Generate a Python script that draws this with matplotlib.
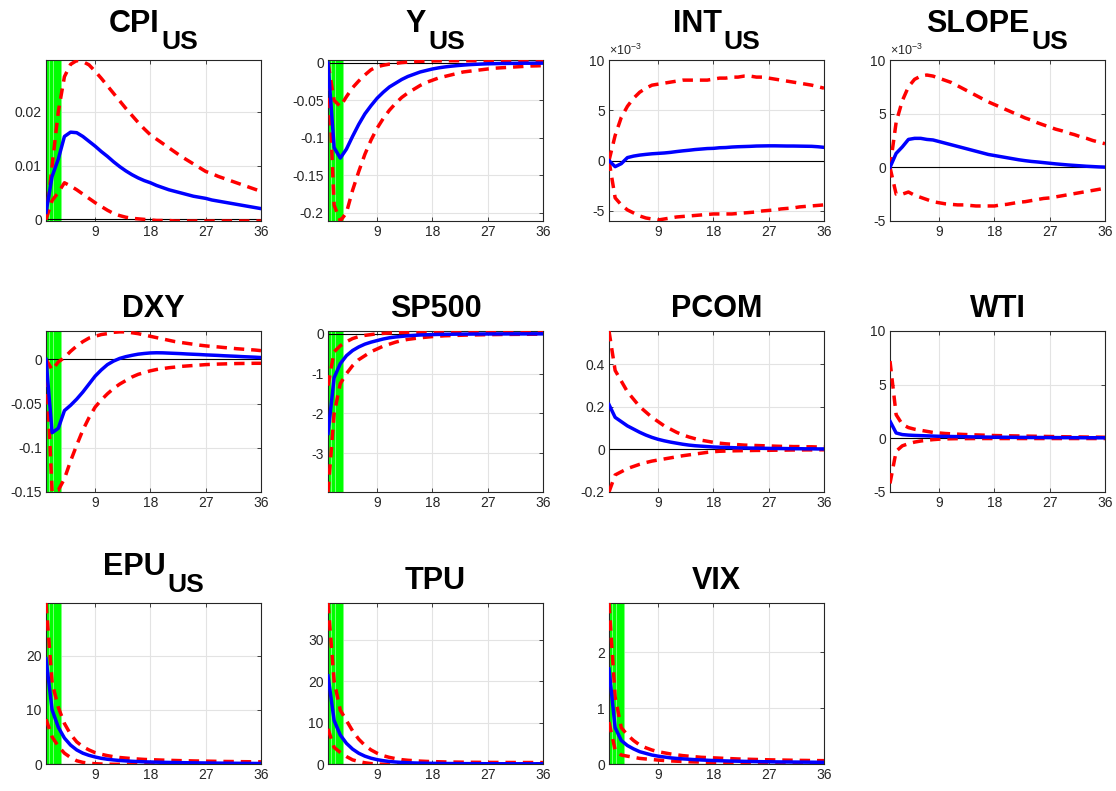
import numpy as np
import matplotlib
matplotlib.use("Agg")
import matplotlib.pyplot as plt
from matplotlib.ticker import FormatStrFormatter

plt.rcParams['font.family'] = ['Liberation Sans', 'DejaVu Sans']
plt.rcParams['mathtext.fontset'] = 'custom'
plt.rcParams['mathtext.rm'] = 'Liberation Sans'

horizon = np.arange(1, 37)

# impulse responses: median (blue) and bands (red), 36 months
cpi_mid = [0.0013, 0.008, 0.0112, 0.0154, 0.0162, 0.0161, 0.0154, 0.0145, 0.0136, 0.0126,
           0.0117, 0.0107, 0.0098, 0.009, 0.0083, 0.0077, 0.0072, 0.0068, 0.0063, 0.0059,
           0.0055, 0.0052, 0.0049, 0.0046, 0.0043, 0.0041, 0.0039, 0.0036, 0.0034, 0.0032,
           0.003, 0.0028, 0.0026, 0.0024, 0.0022, 0.002]
cpi_hi = [0.0, 0.010, 0.020, 0.0265, 0.0288, 0.0295, 0.0293, 0.0287, 0.0275, 0.0262,
          0.0248, 0.0234, 0.022, 0.0206, 0.0193, 0.018, 0.0168, 0.0157, 0.0149, 0.0141,
          0.0133, 0.0125, 0.0117, 0.011, 0.0103, 0.0096, 0.0089, 0.0085, 0.008, 0.0076,
          0.0072, 0.0068, 0.0064, 0.006, 0.0056, 0.0052]
cpi_lo = [0.0, 0.0035, 0.005, 0.0068, 0.0062, 0.0055, 0.0047, 0.0039, 0.0031, 0.0024,
          0.0017, 0.0011, 0.0007, 0.0004, 0.0002, 0.0001, 0.0, -0.0001, -0.0002, -0.0002,
          -0.0002, -0.0003, -0.0003, -0.0003, -0.0003, -0.0003, -0.0003, -0.0003, -0.0003, -0.0003,
          -0.0003, -0.0003, -0.0003, -0.0003, -0.0003, -0.0003]

y_mid = [0.0, -0.113, -0.127, -0.115, -0.098, -0.082, -0.068, -0.057, -0.047, -0.039,
         -0.032, -0.027, -0.022, -0.018, -0.015, -0.012, -0.010, -0.008, -0.0065, -0.0053,
         -0.0043, -0.0035, -0.0028, -0.0022, -0.0018, -0.0014, -0.0011, -0.0009, -0.0007, -0.0006,
         -0.0005, -0.0004, -0.0003, -0.0003, -0.0002, -0.0002]
y_hi = [0.0, -0.05, -0.058, -0.045, -0.033, -0.024, -0.016, -0.009, -0.005, -0.003,
        -0.0015, -0.0005, 0.0005, 0.0012, 0.0018, 0.0022, 0.0025, 0.0027, 0.0028, 0.0029,
        0.003, 0.003, 0.003, 0.003, 0.0029, 0.0029, 0.0028, 0.0028, 0.0027, 0.0027,
        0.0026, 0.0026, 0.0025, 0.0025, 0.0024, 0.0024]
y_lo = [0.0, -0.19, -0.211, -0.20, -0.17, -0.145, -0.122, -0.103, -0.087, -0.074,
        -0.063, -0.054, -0.046, -0.040, -0.035, -0.030, -0.026, -0.023, -0.020, -0.018,
        -0.016, -0.014, -0.012, -0.011, -0.010, -0.009, -0.008, -0.007, -0.0065, -0.006,
        -0.0055, -0.005, -0.0045, -0.004, -0.0038, -0.0035]

# INT and SLOPE in units of 1e-3
int_mid = [0.0, -0.6, -0.3, 0.3, 0.45, 0.55, 0.62, 0.68, 0.72, 0.76,
           0.82, 0.9, 0.97, 1.03, 1.1, 1.15, 1.2, 1.22, 1.28, 1.3,
           1.35, 1.38, 1.4, 1.42, 1.45, 1.46, 1.47, 1.47, 1.46, 1.45,
           1.45, 1.44, 1.43, 1.42, 1.38, 1.32]
int_hi = [0.0, 2.5, 4.3, 5.4, 6.2, 6.8, 7.2, 7.5, 7.6, 7.7,
          7.8, 7.9, 8.0, 8.0, 8.0, 8.0, 8.0, 8.1, 8.2, 8.2,
          8.3, 8.3, 8.4, 8.4, 8.3, 8.3, 8.2, 8.1, 8.0, 7.9,
          7.8, 7.7, 7.6, 7.5, 7.35, 7.2]
int_lo = [0.0, -3.7, -4.4, -4.9, -5.2, -5.5, -5.7, -5.8, -5.9, -5.8,
          -5.7, -5.6, -5.55, -5.5, -5.45, -5.4, -5.35, -5.3, -5.3, -5.3,
          -5.3, -5.25, -5.2, -5.15, -5.1, -5.0, -4.95, -4.9, -4.8, -4.75,
          -4.7, -4.6, -4.55, -4.5, -4.45, -4.4]

slope_mid = [0.0, 1.3, 1.9, 2.6, 2.7, 2.7, 2.6, 2.55, 2.4, 2.25,
             2.1, 1.95, 1.8, 1.65, 1.5, 1.35, 1.2, 1.1, 1.0, 0.9,
             0.8, 0.7, 0.62, 0.55, 0.5, 0.44, 0.38, 0.32, 0.27, 0.22,
             0.18, 0.14, 0.1, 0.07, 0.04, 0.02]
slope_hi = [0.0, 4.2, 6.2, 7.5, 8.2, 8.5, 8.6, 8.5, 8.3, 8.1,
            7.9, 7.6, 7.3, 7.0, 6.7, 6.4, 6.1, 5.85, 5.6, 5.35,
            5.1, 4.85, 4.6, 4.4, 4.15, 3.95, 3.75, 3.55, 3.4, 3.2,
            3.05, 2.85, 2.7, 2.5, 2.35, 2.2]
slope_lo = [0.0, -2.5, -2.5, -2.3, -2.6, -2.8, -3.0, -3.2, -3.3, -3.4,
            -3.45, -3.5, -3.5, -3.55, -3.6, -3.6, -3.6, -3.6, -3.5, -3.45,
            -3.35, -3.25, -3.2, -3.1, -3.0, -2.9, -2.85, -2.75, -2.65, -2.55,
            -2.45, -2.35, -2.25, -2.15, -2.05, -1.95]

dxy_mid = [0.0, -0.083, -0.078, -0.058, -0.052, -0.045, -0.037, -0.028, -0.019, -0.012,
           -0.006, -0.002, 0.001, 0.003, 0.0045, 0.0058, 0.0066, 0.0072, 0.0074, 0.0073,
           0.007, 0.0067, 0.0064, 0.006, 0.0057, 0.0054, 0.005, 0.0047, 0.0044, 0.004,
           0.0037, 0.0034, 0.003, 0.0027, 0.0024, 0.002]
dxy_hi = [0.0, -0.012, -0.003, 0.002, 0.009, 0.015, 0.02, 0.024, 0.026, 0.028,
          0.029, 0.0305, 0.031, 0.031, 0.030, 0.029, 0.0275, 0.026, 0.0245, 0.023,
          0.0215, 0.020, 0.019, 0.018, 0.017, 0.016, 0.0152, 0.0145, 0.014, 0.0133,
          0.0127, 0.012, 0.0115, 0.011, 0.0105, 0.0098]
dxy_lo = [0.0, -0.15, -0.148, -0.135, -0.115, -0.097, -0.08, -0.066, -0.054, -0.046,
          -0.039, -0.033, -0.028, -0.024, -0.02, -0.017, -0.015, -0.013, -0.0115, -0.0105,
          -0.0095, -0.0088, -0.008, -0.0075, -0.007, -0.0065, -0.006, -0.0057, -0.0054, -0.0052,
          -0.005, -0.0048, -0.0047, -0.0046, -0.0045, -0.0045]

sp_mid = [-2.5, -1.1, -0.75, -0.55, -0.42, -0.33, -0.26, -0.21, -0.17, -0.13,
          -0.10, -0.08, -0.065, -0.05, -0.04, -0.03, -0.025, -0.02, -0.016, -0.013,
          -0.011, -0.009, -0.008, -0.007, -0.006, -0.005, -0.004, -0.004, -0.003, -0.003,
          -0.002, -0.002, -0.002, -0.001, -0.001, -0.001]
sp_hi = [-1.3, -0.45, -0.3, -0.2, -0.12, -0.07, -0.04, -0.02, 0.0, 0.01,
         0.02, 0.025, 0.03, 0.03, 0.035, 0.035, 0.035, 0.035, 0.035, 0.035,
         0.035, 0.035, 0.03, 0.03, 0.03, 0.03, 0.03, 0.03, 0.03, 0.025,
         0.025, 0.025, 0.025, 0.025, 0.025, 0.025]
sp_lo = [-3.97, -2.0, -1.25, -1.0, -0.8, -0.65, -0.55, -0.45, -0.38, -0.31,
         -0.26, -0.21, -0.17, -0.14, -0.12, -0.10, -0.085, -0.07, -0.06, -0.05,
         -0.045, -0.04, -0.035, -0.03, -0.028, -0.025, -0.022, -0.02, -0.018, -0.016,
         -0.015, -0.014, -0.013, -0.012, -0.011, -0.01]

pcom_mid = [0.21, 0.15, 0.13, 0.11, 0.095, 0.08, 0.067, 0.056, 0.047, 0.04,
            0.034, 0.029, 0.024, 0.02, 0.017, 0.015, 0.013, 0.011, 0.01, 0.009,
            0.008, 0.007, 0.0065, 0.006, 0.0055, 0.005, 0.0045, 0.004, 0.004, 0.0035,
            0.003, 0.003, 0.0025, 0.0025, 0.002, 0.002]
pcom_hi = [0.555, 0.37, 0.32, 0.27, 0.235, 0.20, 0.175, 0.15, 0.13, 0.11,
           0.095, 0.08, 0.068, 0.058, 0.05, 0.043, 0.038, 0.033, 0.029, 0.026,
           0.024, 0.022, 0.02, 0.019, 0.018, 0.017, 0.016, 0.015, 0.014, 0.014,
           0.013, 0.013, 0.012, 0.012, 0.011, 0.011]
pcom_lo = [-0.2, -0.12, -0.105, -0.09, -0.08, -0.07, -0.062, -0.055, -0.05, -0.045,
           -0.04, -0.035, -0.03, -0.026, -0.022, -0.018, -0.014, -0.011, -0.009, -0.008,
           -0.007, -0.0065, -0.006, -0.0055, -0.005, -0.005, -0.0045, -0.004, -0.004, -0.0035,
           -0.003, -0.003, -0.0025, -0.0025, -0.002, -0.002]

wti_mid = [1.6, 0.5, 0.35, 0.3, 0.27, 0.25, 0.23, 0.21, 0.19, 0.18,
           0.17, 0.16, 0.15, 0.14, 0.13, 0.12, 0.115, 0.11, 0.105, 0.1,
           0.095, 0.09, 0.085, 0.08, 0.078, 0.075, 0.072, 0.07, 0.067, 0.065,
           0.062, 0.06, 0.057, 0.055, 0.052, 0.05]
wti_hi = [7.2, 2.2, 1.3, 1.0, 0.85, 0.75, 0.65, 0.55, 0.5, 0.45,
          0.42, 0.39, 0.36, 0.34, 0.32, 0.3, 0.28, 0.26, 0.25, 0.24,
          0.23, 0.22, 0.21, 0.2, 0.19, 0.18, 0.17, 0.16, 0.15, 0.14,
          0.14, 0.13, 0.12, 0.11, 0.11, 0.1]
wti_lo = [-4.2, -1.2, -0.7, -0.5, -0.35, -0.25, -0.18, -0.12, -0.08, -0.05,
          -0.04, -0.03, -0.03, -0.025, -0.02, -0.02, -0.02, -0.02, -0.02, -0.02,
          -0.02, -0.02, -0.02, -0.02, -0.02, -0.02, -0.02, -0.02, -0.02, -0.02,
          -0.02, -0.02, -0.02, -0.02, -0.02, -0.02]

epu_mid = [19.5, 10.0, 6.8, 4.8, 3.5, 2.6, 2.0, 1.6, 1.3, 1.05,
           0.88, 0.75, 0.65, 0.57, 0.5, 0.45, 0.4, 0.37, 0.34, 0.31,
           0.29, 0.27, 0.25, 0.23, 0.21, 0.2, 0.19, 0.17, 0.16, 0.15,
           0.14, 0.13, 0.12, 0.11, 0.1, 0.1]
epu_hi = [29.8, 15.0, 10.5, 7.5, 5.5, 4.1, 3.2, 2.6, 2.1, 1.8,
          1.55, 1.35, 1.2, 1.1, 1.0, 0.92, 0.85, 0.8, 0.76, 0.72,
          0.68, 0.65, 0.62, 0.6, 0.57, 0.55, 0.53, 0.51, 0.49, 0.47,
          0.46, 0.45, 0.43, 0.42, 0.41, 0.4]
epu_lo = [8.3, 5.0, 3.3, 2.0, 1.2, 0.6, 0.3, 0.15, 0.05, 0.0,
          -0.03, -0.05, -0.05, -0.05, -0.05, -0.05, -0.05, -0.04, -0.04, -0.04,
          -0.03, -0.03, -0.03, -0.03, -0.02, -0.02, -0.02, -0.02, -0.02, -0.02,
          -0.01, -0.01, -0.01, -0.01, -0.01, -0.01]

tpu_mid = [21.3, 10.5, 7.0, 5.0, 3.6, 2.6, 1.9, 1.4, 1.05, 0.8,
           0.6, 0.48, 0.38, 0.3, 0.25, 0.21, 0.18, 0.16, 0.14, 0.12,
           0.11, 0.1, 0.09, 0.085, 0.08, 0.075, 0.07, 0.065, 0.06, 0.06,
           0.055, 0.055, 0.05, 0.05, 0.05, 0.05]
tpu_hi = [38.9, 20.0, 13.0, 10.5, 8.0, 6.0, 4.5, 3.4, 2.6, 2.0,
          1.6, 1.3, 1.05, 0.9, 0.8, 0.7, 0.63, 0.58, 0.54, 0.5,
          0.48, 0.46, 0.44, 0.42, 0.41, 0.4, 0.39, 0.38, 0.38, 0.37,
          0.37, 0.36, 0.36, 0.36, 0.35, 0.35]
tpu_lo = [8.5, 4.0, 2.8, 1.8, 1.0, 0.6, 0.3, 0.1, 0.0, -0.05,
          -0.08, -0.08, -0.08, -0.07, -0.07, -0.06, -0.06, -0.05, -0.05, -0.05,
          -0.04, -0.04, -0.04, -0.03, -0.03, -0.03, -0.03, -0.02, -0.02, -0.02,
          -0.02, -0.02, -0.02, -0.01, -0.01, -0.01]

vix_mid = [1.7, 0.65, 0.42, 0.33, 0.27, 0.22, 0.19, 0.16, 0.14, 0.125,
           0.11, 0.1, 0.092, 0.085, 0.078, 0.072, 0.067, 0.062, 0.058, 0.055,
           0.052, 0.05, 0.047, 0.045, 0.043, 0.041, 0.04, 0.038, 0.037, 0.036,
           0.035, 0.034, 0.033, 0.032, 0.031, 0.03]
vix_hi = [2.88, 1.2, 0.65, 0.52, 0.42, 0.34, 0.29, 0.25, 0.22, 0.2,
          0.18, 0.165, 0.15, 0.14, 0.13, 0.12, 0.115, 0.11, 0.105, 0.1,
          0.095, 0.09, 0.087, 0.084, 0.081, 0.078, 0.075, 0.073, 0.071, 0.069,
          0.067, 0.065, 0.064, 0.062, 0.061, 0.06]
vix_lo = [0.75, 0.25, 0.16, 0.14, 0.12, 0.1, 0.09, 0.08, 0.07, 0.062,
          0.055, 0.05, 0.045, 0.04, 0.037, 0.034, 0.031, 0.028, 0.026, 0.024,
          0.022, 0.02, 0.019, 0.018, 0.016, 0.015, 0.014, 0.013, 0.012, 0.011,
          0.01, 0.009, 0.008, 0.007, 0.006, 0.005]

title_main = ['CPI', 'Y', 'INT', 'SLOPE', 'DXY', 'SP500', 'PCOM', 'WTI', 'EPU', 'TPU', 'VIX']
title_sub = ['US', 'US', 'US', 'US', '', '', '', '', 'US', '', '']
mids = [cpi_mid, y_mid, int_mid, slope_mid, dxy_mid, sp_mid, pcom_mid, wti_mid, epu_mid, tpu_mid, vix_mid]
his = [cpi_hi, y_hi, int_hi, slope_hi, dxy_hi, sp_hi, pcom_hi, wti_hi, epu_hi, tpu_hi, vix_hi]
los = [cpi_lo, y_lo, int_lo, slope_lo, dxy_lo, sp_lo, pcom_lo, wti_lo, epu_lo, tpu_lo, vix_lo]
yticks = [[0, 0.01, 0.02], [-0.2, -0.15, -0.1, -0.05, 0], [-5, 0, 5, 10], [-5, 0, 5, 10],
          [-0.15, -0.1, -0.05, 0], [-3, -2, -1, 0], [-0.2, 0, 0.2, 0.4], [-5, 0, 5, 10],
          [0, 10, 20], [0, 10, 20, 30], [0, 1, 2]]
ylims = [(-0.0003, 0.0296), (-0.211, 0.004), (-6, 10), (-5, 10),
         (-0.15, 0.032), (-3.97, 0.07), (-0.2, 0.555), (-5, 10),
         (0, 29.8), (0, 38.9), (0, 2.88)]
shaded = [True, True, False, False, True, True, False, False, True, True, True]
scaled = [False, False, True, True, False, False, False, False, False, False, False]

fig = plt.figure(figsize=(11.16, 7.91), dpi=100)
W, H = 1116, 791
col_left = [46, 328, 609, 890]
row_top = [60, 331, 603]
aw, ah = 215, 161
renderer = fig.canvas.get_renderer()

for i in range(11):
    r, c = divmod(i, 4)
    ax = fig.add_axes([col_left[c] / W, 1 - (row_top[r] + ah) / H, aw / W, ah / H])
    if shaded[i]:
        for a, b in [(1, 1.45), (1.45, 2.2), (2.2, 3.45)]:
            ax.axvspan(a, b, facecolor='#00ff00', edgecolor='#80ff80', lw=0.6, zorder=1)
    ax.axhline(0, color='k', lw=0.8, zorder=2)
    ax.plot(horizon, his[i], color='red', lw=2.5, dashes=(3, 2), zorder=3)
    ax.plot(horizon, los[i], color='red', lw=2.5, dashes=(3, 2), zorder=3)
    ax.plot(horizon, mids[i], color='blue', lw=2.5, zorder=4)
    ax.set_xlim(1, 36)
    ax.set_ylim(*ylims[i])
    ax.set_xticks([9, 18, 27, 36])
    ax.set_yticks(yticks[i])
    ax.yaxis.set_major_formatter(FormatStrFormatter('%g'))
    ax.grid(True, color='#e3e3e3', lw=0.8, zorder=0)
    ax.set_axisbelow(True)
    ax.tick_params(direction='in', length=3, width=0.6, top=True, right=True,
                   labelsize=10, colors='#262626', pad=3)
    for s in ax.spines.values():
        s.set_color('#262626')
        s.set_linewidth(0.8)
    if scaled[i]:
        ax.text(0.0, 1.01, r'$\times10^{-3}$', transform=ax.transAxes,
                fontsize=9, color='#262626', ha='left', va='bottom')

    # title with a large, low subscript (MATLAB style)
    cx = col_left[c] + aw / 2
    top = row_top[r]
    base = top - 28 if title_sub[i] else top - 14
    t1 = fig.text(0, 1 - base / H, title_main[i], fontsize=22, fontweight='bold',
                  ha='left', va='baseline')
    w1 = t1.get_window_extent(renderer).width
    w2 = 0
    if title_sub[i]:
        t2 = fig.text(0, 1 - (top - 11) / H, title_sub[i], fontsize=19, fontweight='bold',
                      ha='left', va='baseline')
        w2 = t2.get_window_extent(renderer).width + 2
    x0 = cx - (w1 + w2) / 2
    t1.set_x(x0 / W)
    if title_sub[i]:
        t2.set_x((x0 + w1 + 2) / W)

fig.savefig('out.png', dpi=100)
